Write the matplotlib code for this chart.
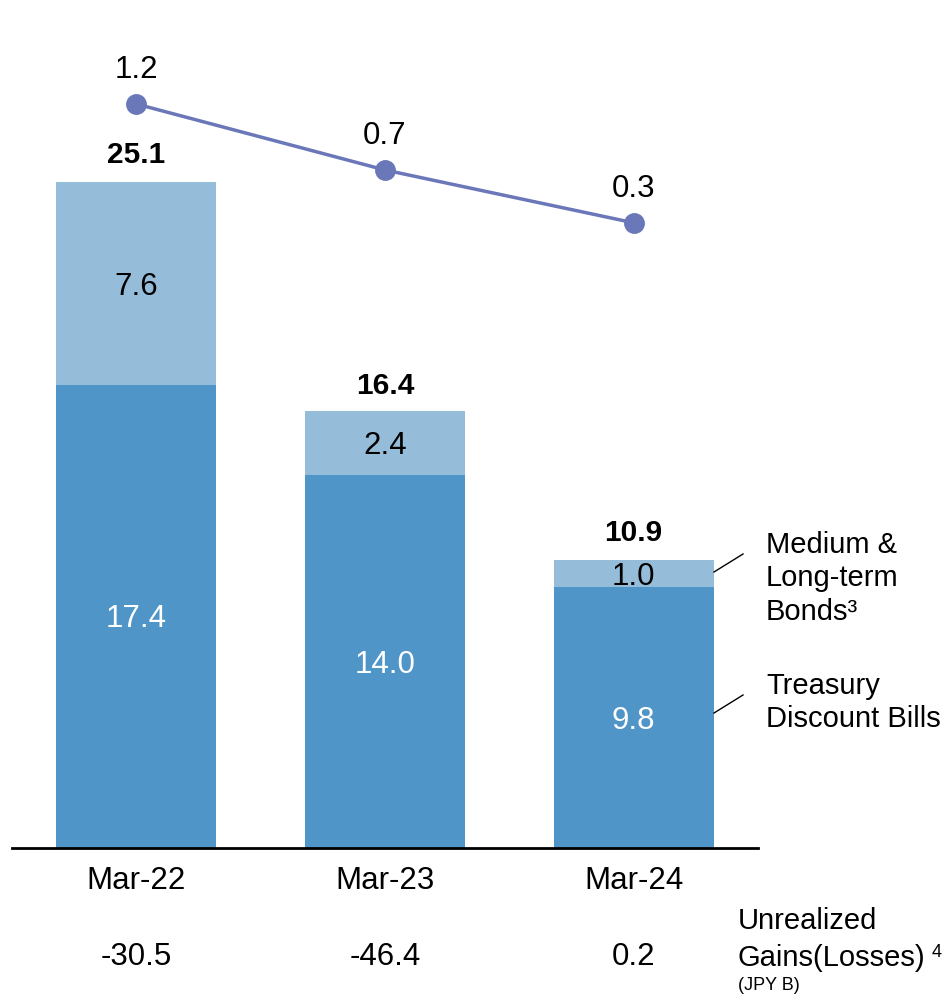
import matplotlib.pyplot as plt

plt.rcParams['font.family'] = ['Liberation Sans', 'DejaVu Sans']

# JPY B
periods = ['Mar-22', 'Mar-23', 'Mar-24']
treasury_bills = [17.4, 14.0, 9.8]
long_term_bonds = [7.6, 2.4, 1.0]
totals = [25.1, 16.4, 10.9]
line_values = [1.2, 0.7, 0.3]
unrealized = ['-30.5', '-46.4', '0.2']

dark_blue = '#4F95C8'
light_blue = '#95BDDA'
line_color = '#6A77B8'

W, H = 945, 997
fig = plt.figure(figsize=(W / 100, H / 100), dpi=100)

def fx(px):
    return px / W

def fy(py):
    return 1 - py / H

ax = fig.add_axes([fx(12), fy(848), fx(758) - fx(12), fy(20) - fy(848)])
x = list(range(len(periods)))
width = 0.643

ax.bar(x, treasury_bills, width, color=dark_blue, zorder=2)
ax.bar(x, long_term_bonds, width, bottom=treasury_bills, color=light_blue, zorder=2)

ax.set_xlim(-0.5, 2.5)
ax.set_ylim(0, 31.1)
for s in ['top', 'right', 'left']:
    ax.spines[s].set_visible(False)
ax.spines['bottom'].set_linewidth(2)
ax.spines['bottom'].set_color('black')
ax.set_yticks([])
ax.set_xticks(x)
ax.set_xticklabels(periods, fontsize=22.5)
ax.tick_params(axis='x', length=0, pad=13)

for i in x:
    ax.annotate(f'{treasury_bills[i]:.1f}', (i, treasury_bills[i] / 2), xytext=(0, -3),
                textcoords='offset pixels', ha='center', va='center', fontsize=22.5, color='white')
    ax.annotate(f'{long_term_bonds[i]:.1f}', (i, treasury_bills[i] + long_term_bonds[i] / 2),
                xytext=(0, -3), textcoords='offset pixels', ha='center', va='center',
                fontsize=22.5, color='black')
    ax.annotate(f'{totals[i]:.1f}', (i, totals[i]), xytext=(0, 25), textcoords='offset pixels',
                ha='center', va='center', fontsize=21.5, fontweight='bold')

# line on its own scale
ax2 = ax.twinx()
ax2.set_ylim(1.2 - (848 - 104) / 132, 1.2 + (104 - 20) / 132)
ax2.axis('off')
ax2.plot(x, line_values, color=line_color, lw=2.5, marker='o', markersize=14, zorder=3)
for i in x:
    ax2.annotate(f'{line_values[i]:.1f}', (i, line_values[i]), xytext=(0, 34),
                 textcoords='offset pixels', ha='center', va='center', fontsize=22.5)

# unrealized gains row
for i, v in enumerate(unrealized):
    fig.text(fx(136 + 249 * i), fy(957), v, ha='center', va='center', fontsize=22.5)
fig.text(fx(738), fy(921), 'Unrealized', ha='left', va='center', fontsize=21)
fig.text(fx(738), fy(958), 'Gains(Losses)', ha='left', va='center', fontsize=21)
fig.text(fx(932), fy(952), '4', ha='left', va='center', fontsize=13)
fig.text(fx(738), fy(985), '(JPY B)', ha='left', va='center', fontsize=13)

# series labels with leader lines
fig.text(fx(766), fy(545), 'Medium &', ha='left', va='center', fontsize=21)
fig.text(fx(766), fy(578), 'Long-term', ha='left', va='center', fontsize=21)
fig.text(fx(766), fy(612), 'Bonds³', ha='left', va='center', fontsize=21)
fig.text(fx(766), fy(686), 'Treasury', ha='left', va='center', fontsize=21)
fig.text(fx(766), fy(719), 'Discount Bills', ha='left', va='center', fontsize=21)
fig.add_artist(plt.Line2D([fx(714), fx(743)], [fy(572), fy(554)], color='black', lw=1))
fig.add_artist(plt.Line2D([fx(714), fx(743)], [fy(713), fy(695)], color='black', lw=1))

fig.savefig('out.png', dpi=100)
